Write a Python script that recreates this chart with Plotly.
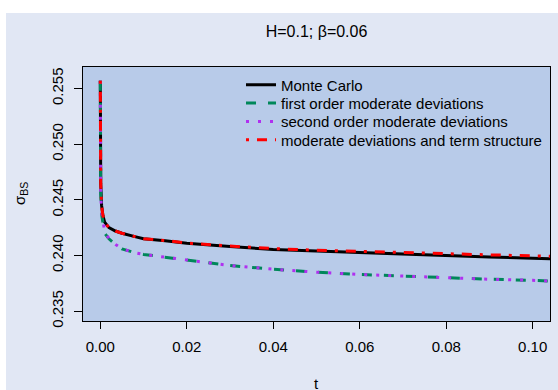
import plotly.graph_objects as go

# ---- data ----
t_vals = [0.000005, 0.00003, 0.0001, 0.0003, 0.0006, 0.001, 0.002, 0.0035,
          0.005, 0.008, 0.01, 0.015, 0.02, 0.03, 0.04, 0.05, 0.06, 0.07,
          0.08, 0.09, 0.10, 0.105]

monte_carlo = [0.2557, 0.2500, 0.2465, 0.2445, 0.2436, 0.2430, 0.2425, 0.2422,
               0.2420, 0.2417, 0.2415, 0.24133, 0.2411, 0.2408, 0.24055, 0.2404,
               0.24027, 0.24008, 0.23997, 0.23986, 0.23976, 0.2397]

first_order = [0.2557, 0.2490, 0.2455, 0.2437, 0.2428, 0.2420, 0.2415, 0.2410,
               0.2406, 0.24025, 0.2401, 0.23985, 0.2396, 0.2391, 0.23877, 0.2385,
               0.2383, 0.23815, 0.2380, 0.23787, 0.23777, 0.2377]

second_order = [0.2557, 0.2492, 0.2457, 0.2439, 0.2430, 0.2422, 0.2415, 0.2410,
                0.2406, 0.24025, 0.2401, 0.23985, 0.2396, 0.2391, 0.23877, 0.2385,
                0.2383, 0.23815, 0.2380, 0.23787, 0.23777, 0.2377]

term_structure = [0.2557, 0.2500, 0.2465, 0.2445, 0.2436, 0.2430, 0.2425, 0.2422,
                  0.2420, 0.2417, 0.2415, 0.24135, 0.24112, 0.24085, 0.24062, 0.24048,
                  0.24036, 0.24026, 0.24015, 0.24006, 0.23997, 0.23992]

series_names = ["Monte Carlo", "first order moderate deviations",
                "second order moderate deviations", "moderate deviations and term structure"]
x_ticks = [0.00, 0.02, 0.04, 0.06, 0.08, 0.10]
y_ticks = [0.235, 0.240, 0.245, 0.250, 0.255]

FONT = "Liberation Sans, Arial, Helvetica, sans-serif"
FS = 15

W, H = 558, 390
ml, mr, mt, mb = 83, 8, 67, 69
pw, ph = W - ml - mr, H - mt - mb

def px(xp):
    return (xp - ml) / pw

def py(yp):
    return (H - mb - yp) / ph

fig = go.Figure()
styles = [
    dict(color="#000000", width=3, dash="solid"),
    dict(color="#00875A", width=3, dash="10px,12px"),
    dict(color="#B030F0", width=3, dash="3px,9px"),
    dict(color="#FF0000", width=3, dash="3px,8px,10px,8px"),
]
legend_ids = ["legend", "legend2", "legend3", "legend4"]
legend_y = [85, 103.3, 121.7, 140]
for name, ys, st, lid in zip(series_names,
                             [monte_carlo, first_order, second_order, term_structure],
                             styles, legend_ids):
    fig.add_trace(go.Scatter(x=t_vals, y=ys, mode="lines", name=name, line=st,
                             legend=lid))

legend_common = dict(xanchor="left", yanchor="middle", bgcolor="rgba(0,0,0,0)",
                     borderwidth=0, font=dict(size=FS), x=px(241))
legend_layout = {lid: dict(legend_common, y=py(yy)) for lid, yy in zip(legend_ids, legend_y)}

fig.update_layout(
    width=W, height=H,
    margin=dict(l=ml, r=mr, t=mt, b=mb, pad=0),
    paper_bgcolor="#E1E7F4",
    plot_bgcolor="#B8CBE9",
    font=dict(family=FONT, size=FS, color="#000000"),
    showlegend=True,
    title=dict(text="H=0.1; β=0.06", x=0.5, xref="paper", xanchor="center",
               y=1 - 31 / H, yanchor="middle", font=dict(size=16)),
    xaxis=dict(range=[-0.004, 0.104], tickvals=x_ticks, tickformat=".2f",
               showgrid=False, zeroline=False, showline=True, mirror=True,
               linecolor="black", linewidth=1, ticks="outside", ticklen=7,
               tickcolor="black", tickfont=dict(size=FS), ticklabelstandoff=5),
    yaxis=dict(range=[0.23412, 0.25693], tickvals=y_ticks, tickformat=".3f",
               showgrid=False, zeroline=False, showline=True, mirror=True,
               linecolor="black", linewidth=1, ticks="outside", ticklen=8,
               tickcolor="black", tickangle=-90, tickfont=dict(size=FS),
               ticklabelstandoff=5),
    shapes=[
        dict(type="rect", xref="paper", yref="paper", x0=px(0), x1=px(6), y0=py(H), y1=py(0),
             fillcolor="white", line=dict(width=0), layer="above"),
        dict(type="rect", xref="paper", yref="paper", x0=px(0), x1=px(W), y0=py(13), y1=py(0),
             fillcolor="white", line=dict(width=0), layer="above"),
    ],
    annotations=[
        dict(text="σ<sub>BS</sub>", x=px(20), y=py(194), xref="paper", yref="paper",
             showarrow=False, textangle=-90, xanchor="center", yanchor="middle",
             font=dict(size=FS)),
        dict(text="t", x=px(316), y=py(383), xref="paper", yref="paper",
             showarrow=False, xanchor="center", yanchor="middle", font=dict(size=FS)),
    ],
    **legend_layout,
)

fig.write_html("out.html")
